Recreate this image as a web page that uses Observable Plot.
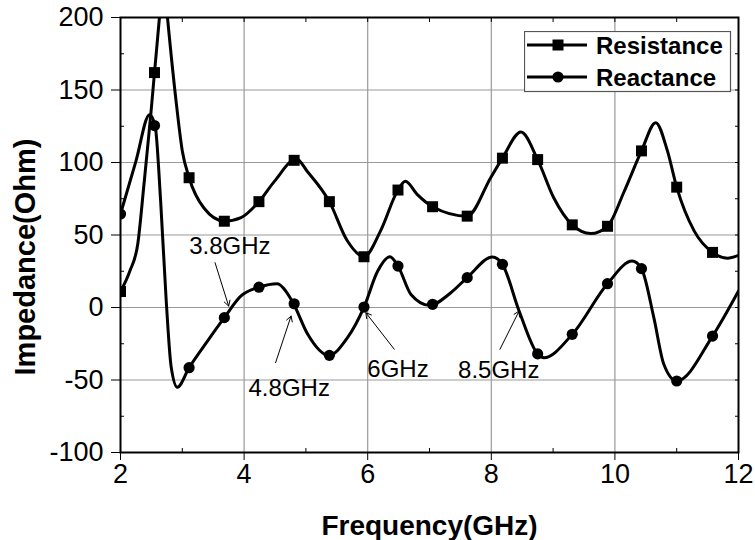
<!DOCTYPE html>
<html>
<head>
<meta charset="utf-8">
<script src="https://cdn.jsdelivr.net/npm/d3@7"></script>
<script src="https://cdn.jsdelivr.net/npm/@observablehq/plot@0.6"></script>
<style>
  body { margin: 0; background: #fff; font-family: "Liberation Sans", Arial, sans-serif; }
  #wrap { position: relative; width: 755px; height: 540px; }
</style>
</head>
<body>
<div id="wrap"></div>
<script>
// ---- Data ----
const resFreq = [2.0, 2.15, 2.28, 2.38, 2.49, 2.55, 2.63, 2.69, 2.76, 2.90, 3.0, 3.11, 3.35, 3.68, 3.95, 4.24, 4.49, 4.85, 5.02, 5.38, 5.67, 5.94, 6.21, 6.49, 6.61, 6.80, 7.05, 7.61, 7.99, 8.18, 8.48, 8.75, 9.01, 9.31, 9.61, 9.88, 10.15, 10.43, 10.66, 10.85, 11.0, 11.28, 11.58, 11.82, 12.0];
const resVals = [11, 25, 44, 85, 133, 162, 200, 232, 200, 142, 108, 89.5, 68.6, 59.5, 62, 73, 87, 102.5, 94, 73, 46, 35, 53, 81, 87, 78, 69.5, 63, 89.5, 103, 121, 102, 75.7, 57, 51, 56, 80, 108, 127.5, 108, 83, 53, 38, 34, 36];

const reacFreq = [2.0, 2.25, 2.47, 2.56, 2.65, 2.74, 2.82, 2.92, 3.11, 3.41, 3.68, 3.95, 4.24, 4.54, 4.68, 4.80, 5.03, 5.37, 5.67, 5.94, 6.16, 6.36, 6.49, 6.70, 7.0, 7.34, 7.61, 8.02, 8.18, 8.45, 8.75, 8.85, 9.31, 9.88, 10.28, 10.43, 10.63, 10.79, 11.0, 11.58, 12.0];
const reacVals = [64.5, 101, 133, 125.5, 73, 4.5, -41, -55, -41.5, -23, -7, 8, 14, 16.4, 11, 2.6, -18.5, -33, -21, 0.3, 25, 35, 28.6, 9, 1.5, 10, 20.6, 34.8, 29.8, -2.4, -32, -34.6, -18.5, 16.4, 32, 26.8, -7, -39, -50.7, -19.7, 11.4];

const markerFreq = [2.0, 2.55, 3.11, 3.68, 4.24, 4.81, 5.38, 5.94, 6.49, 7.05, 7.61, 8.18, 8.75, 9.31, 9.88, 10.43, 11.0, 11.58];
const resMarkers = [11, 162, 89.5, 59.5, 73, 101.5, 73, 35, 81, 69.5, 63, 103, 102, 57, 56, 108, 83, 38];
const reacMarkers = [64.5, 125.5, -41.5, -7, 14, 2.6, -33, 0.3, 28.6, 2.2, 20.6, 29.8, -32, -18.5, 16.4, 26.8, -50.7, -19.7];

const seriesNames = ["Resistance", "Reactance"];

// annotations
const annLabels = ["3.8GHz", "4.8GHz", "6GHz", "8.5GHz"];
const annTextX = [3.77, 4.73, 6.49, 8.12];
const annTextY = [42.4, -55.5, -42.4, -43.1];
const annFromX = [3.53, 4.51, 6.43, 8.14];
const annFromY = [30.9, -38, -28.8, -28.8];
const annToX = [3.75, 4.76, 5.97, 8.45];
const annToY = [1, -5.9, -3.6, -2.4];

// ticks
const xTicks = [2, 4, 6, 8, 10, 12];
const xMinor = [3, 5, 7, 9, 11];
const xAll = [3, 4, 5, 6, 7, 8, 9, 10, 11];
const yTicks = [-100, -50, 0, 50, 100, 150, 200];
const yMinor = [-75, -25, 25, 75, 125, 175];
const yAll = [-75, -50, -25, 0, 25, 50, 75, 100, 125, 150, 175];
const xGrid = [4, 6, 8, 10];
const yGrid = [-50, 0, 50, 100, 150];
const xLabel = "Frequency(GHz)";
const yLabel = "Impedance(Ohm)";

// ---- tables ----
const resData = resFreq.map((f, i) => ({f, v: resVals[i]}));
const reacData = reacFreq.map((f, i) => ({f, v: reacVals[i]}));
const resMk = markerFreq.map((f, i) => ({f, v: resMarkers[i]}));
const reacMk = markerFreq.map((f, i) => ({f, v: reacMarkers[i]}));
const ann = annLabels.map((t, i) => ({t, tx: annTextX[i], ty: annTextY[i], x1: annFromX[i], y1: annFromY[i], x2: annToX[i], y2: annToY[i]}));

const font = "'Liberation Sans', Arial, sans-serif";
const blank = () => "";
const plain = d => String(d);

const chart = Plot.plot({
  width: 755,
  height: 540,
  marginLeft: 120,
  marginRight: 17,
  marginTop: 17,
  marginBottom: 88,
  style: {fontFamily: font, fontSize: "27px", color: "black", background: "white", overflow: "visible"},
  x: {domain: [2, 12]},
  y: {domain: [-100, 200]},
  marks: [
    Plot.gridX(xGrid, {stroke: "#9a9a9a", strokeOpacity: 1, strokeWidth: 1.2}),
    Plot.gridY(yGrid, {stroke: "#9a9a9a", strokeOpacity: 1, strokeWidth: 1.2}),
    Plot.line(resData, {x: "f", y: "v", curve: "monotone-x", stroke: "black", strokeWidth: 3, clip: true}),
    Plot.line(reacData, {x: "f", y: "v", curve: "monotone-x", stroke: "black", strokeWidth: 3, clip: true}),
    Plot.dot(resMk, {x: "f", y: "v", symbol: "square", r: 6.2, fill: "black", stroke: "none", clip: true}),
    Plot.dot(reacMk, {x: "f", y: "v", symbol: "circle", r: 5.6, fill: "black", stroke: "none", clip: true}),
    Plot.arrow(ann, {x1: "x1", y1: "y1", x2: "x2", y2: "y2", stroke: "black", strokeWidth: 1, headLength: 9}),
    Plot.text(ann, {x: "tx", y: "ty", text: "t", fontSize: 24, fill: "black", lineAnchor: "middle", textAnchor: "middle"}),
    Plot.frame({stroke: "black", strokeWidth: 2}),
    Plot.axisX(xTicks, {anchor: "bottom", tickSize: 8, tickPadding: 3, fontSize: 27, tickFormat: plain, label: null}),
    Plot.axisX(xMinor, {anchor: "bottom", tickSize: 4, dy: -4, tickFormat: blank, label: null}),
    Plot.axisX(xAll, {anchor: "top", tickSize: 4, dy: 4, tickFormat: blank, label: null}),
    Plot.axisY(yTicks, {anchor: "left", tickSize: 9, tickPadding: 8, fontSize: 27, tickFormat: plain, label: null}),
    Plot.axisY(yMinor, {anchor: "left", tickSize: 4, dx: 4, tickFormat: blank, label: null}),
    Plot.axisY(yAll, {anchor: "right", tickSize: 4, dx: -4, tickFormat: blank, label: null}),
    Plot.text([yLabel], {frameAnchor: "left", dx: -95, dy: 22, rotate: -90, fontSize: 29, fontWeight: "bold", fill: "black", lineAnchor: "middle", textAnchor: "middle"}),
    Plot.text([xLabel], {frameAnchor: "bottom", dy: 74, fontSize: 28, fontWeight: "bold", fill: "black", lineAnchor: "middle", textAnchor: "middle"})
  ]
});
chart.style.position = "absolute";
chart.style.left = "0px";
chart.style.top = "0px";
const wrap = document.getElementById("wrap");
wrap.appendChild(chart);

// ---- legend (inside plot, top right) ----
const ns = "http://www.w3.org/2000/svg";
const lg = document.createElementNS(ns, "svg");
lg.setAttribute("width", 208);
lg.setAttribute("height", 62);
lg.style.position = "absolute";
lg.style.left = "524px";
lg.style.top = "31px";
function el(name, attrs) {
  const e = document.createElementNS(ns, name);
  for (const k in attrs) e.setAttribute(k, attrs[k]);
  lg.appendChild(e);
  return e;
}
el("rect", {x: 0.5, y: 0.5, width: 206, height: 60, fill: "white", stroke: "#555", "stroke-width": 1.2});
const rowY = [14, 46];
seriesNames.forEach((name, i) => {
  const y = rowY[i];
  el("line", {x1: 3, x2: 63, y1: y, y2: y, stroke: "black", "stroke-width": 3});
  if (i === 0) el("rect", {x: 34 - 5.5, y: y - 5.5, width: 11, height: 11, fill: "black"});
  else el("circle", {cx: 34, cy: y, r: 5.6, fill: "black"});
  const t = el("text", {x: 72, y: y + 9, "font-family": font, "font-size": 24, "font-weight": "bold", fill: "black"});
  t.textContent = name;
});
wrap.appendChild(lg);
</script>
</body>
</html>
